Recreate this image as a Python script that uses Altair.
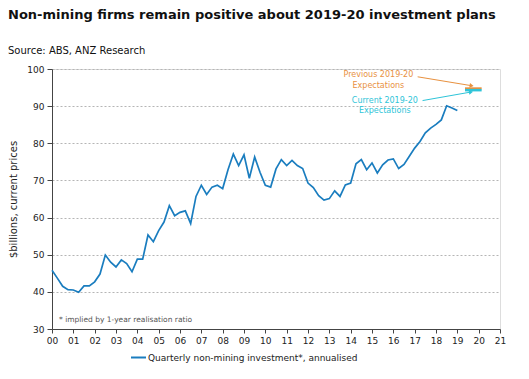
import altair as alt
import pandas as pd

# ---- data ----
title_text = "Non-mining firms remain positive about 2019-20 investment plans"
source_text = "Source: ABS, ANZ Research"
footnote_text = "* implied by 1-year realisation ratio"
series_name = "Quarterly non-mining investment*, annualised"

# quarterly values, Mar-2000 .. Mar-2019 ($bn, annualised)
investment = [45.8, 43.7, 41.5, 40.6, 40.5, 39.9, 41.6, 41.6, 42.7, 44.8,
              49.9, 48.0, 46.7, 48.6, 47.6, 45.4, 48.8, 48.8, 55.3, 53.5,
              56.5, 58.8, 63.2, 60.5, 61.4, 61.8, 58.4, 65.7, 68.7, 66.2,
              68.2, 68.7, 67.8, 72.9, 77.1, 74.0, 76.9, 70.6, 76.3, 72.2,
              68.7, 68.2, 73.1, 75.6, 74.0, 75.4, 74.0, 73.2, 69.3, 68.1,
              65.9, 64.7, 65.1, 67.2, 65.7, 68.8, 69.3, 74.5, 75.6, 72.9,
              74.7, 72.0, 74.2, 75.5, 75.8, 73.2, 74.3, 76.5, 78.7, 80.5,
              82.8, 84.1, 85.1, 86.3, 90.1, 89.5, 88.8]
quarter_pos = [i * 0.25 for i in range(len(investment))]  # years since 2000

year_ticks = list(range(0, 22))
y_ticks = [30, 40, 50, 60, 70, 80, 90, 100]

# 2019-20 expectations
exp_names = ["Previous 2019-20 Expectations", "Current 2019-20 Expectations"]
exp_values = [94.8, 94.3]
exp_start = [19.36, 19.36]
exp_end = [20.14, 20.14]
exp_colors = ["#e8913f", "#2ec4d8"]
exp_widths = [2, 2.5]

# annotation label lines and arrows (data units)
ann_lines = ["Previous 2019-20", "Expectations", "Current 2019-20", "Expectations"]
ann_x = [15.3, 15.3, 15.6, 15.6]
ann_y = [98.3, 95.5, 91.5, 88.8]
ann_col = ["#e8913f", "#e8913f", "#2ec4d8", "#2ec4d8"]
arrow_x0 = [17.14, 17.37]
arrow_y0 = [97.9, 91.5]
arrow_x1 = [19.67, 19.64]
arrow_y1 = [95.5, 93.8]
arrow_angle = [9.5, 349.8]

FONT = "DejaVu Sans"
BLUE = "#1a7dbf"

line_df = pd.DataFrame({"x": quarter_pos, "v": investment, "series": series_name})
exp_df = pd.DataFrame({"name": exp_names, "v": exp_values, "x0": exp_start,
                       "x1": exp_end, "c": exp_colors, "w": exp_widths})
ann_df = pd.DataFrame({"t": ann_lines, "x": ann_x, "y": ann_y, "c": ann_col})
arr_df = pd.DataFrame({"x0": arrow_x0, "y0": arrow_y0, "x1": arrow_x1,
                       "y1": arrow_y1, "c": exp_colors, "a": arrow_angle})

xscale = alt.Scale(domain=[0, 21], nice=False, zero=False)
yscale = alt.Scale(domain=[30, 100], nice=False, zero=False)

x_axis = alt.Axis(values=year_ticks, title=None, grid=False,
                  labelExpr="datum.value < 10 ? '0' + datum.value : '' + datum.value",
                  labelFontSize=9, labelColor="#222", labelFont=FONT,
                  tickSize=4, tickColor="#444", domainColor="#444",
                  labelPadding=3, labelFlush=False, labelOverlap=False)
y_axis = alt.Axis(values=y_ticks, title="$billions, current prices",
                  titleFontSize=10, titleFont=FONT, titleFontWeight="normal",
                  titleColor="#222", titleX=-39, titleBaseline="middle",
                  labelFontSize=9, labelColor="#222", labelFont=FONT,
                  tickSize=5, tickColor="#444", domainColor="#444",
                  gridColor="#b5b5b5", gridDash=[2, 2], labelPadding=3,
                  labelOverlap=False)

base_line = alt.Chart(line_df).mark_line(strokeWidth=1.7).encode(
    x=alt.X("x:Q", scale=xscale, axis=x_axis),
    y=alt.Y("v:Q", scale=yscale, axis=y_axis),
    color=alt.Color("series:N", scale=alt.Scale(range=[BLUE]),
                    legend=alt.Legend(title=None, orient="none", legendX=78, legendY=280,
                                      symbolType="stroke", symbolSize=225,
                                      symbolStrokeWidth=2, labelFontSize=9,
                                      labelFont=FONT, labelColor="#222",
                                      labelOffset=1, labelLimit=400)),
)

exp_rules = alt.Chart(exp_df).mark_rule().encode(
    x=alt.X("x0:Q", scale=xscale, axis=x_axis), x2="x1:Q",
    y=alt.Y("v:Q", scale=yscale, axis=y_axis),
    color=alt.Color("c:N", scale=None, legend=None),
    strokeWidth=alt.StrokeWidth("w:Q", scale=None, legend=None),
)

ann_text = alt.Chart(ann_df).mark_text(fontSize=8, font=FONT, align="center",
                                       baseline="middle").encode(
    x=alt.X("x:Q", scale=xscale, axis=x_axis),
    y=alt.Y("y:Q", scale=yscale, axis=y_axis), text="t:N",
    color=alt.Color("c:N", scale=None, legend=None))

arr_lines = alt.Chart(arr_df).mark_rule(strokeWidth=1).encode(
    x=alt.X("x0:Q", scale=xscale, axis=x_axis), x2="x1:Q",
    y=alt.Y("y0:Q", scale=yscale, axis=y_axis), y2="y1:Q",
    color=alt.Color("c:N", scale=None, legend=None))

arr_heads = alt.Chart(arr_df).mark_point(shape="triangle-right", filled=True,
                                         size=22, opacity=1).encode(
    x=alt.X("x1:Q", scale=xscale, axis=x_axis),
    y=alt.Y("y1:Q", scale=yscale, axis=y_axis),
    angle=alt.Angle("a:Q", scale=None),
    color=alt.Color("c:N", scale=None, legend=None))

title_layer = alt.Chart(pd.DataFrame({"t": [title_text]})).mark_text(
    align="left", baseline="middle", fontSize=13, fontWeight="bold", font=FONT,
    color="#111").encode(x=alt.value(-44), y=alt.value(-54), text="t:N")

source_layer = alt.Chart(pd.DataFrame({"t": [source_text]})).mark_text(
    align="left", baseline="middle", fontSize=10, font=FONT,
    color="#111").encode(x=alt.value(-44), y=alt.value(-18), text="t:N")

foot_layer = alt.Chart(pd.DataFrame({"t": [footnote_text]})).mark_text(
    align="left", baseline="middle", fontSize=7.5, font=FONT,
    color="#555").encode(x=alt.value(7), y=alt.value(251), text="t:N")

chart = alt.layer(
    base_line, exp_rules, arr_lines, arr_heads, ann_text,
    title_layer, source_layer, foot_layer
).properties(
    width=448, height=260,
    autosize=alt.AutoSizeParams(type="none"),
    padding={"left": 44, "top": 61, "right": 21, "bottom": 42},
).configure_view(stroke=None).configure(background="white")

chart.save("out.html", embed_options={"renderer": "svg", "actions": False})
